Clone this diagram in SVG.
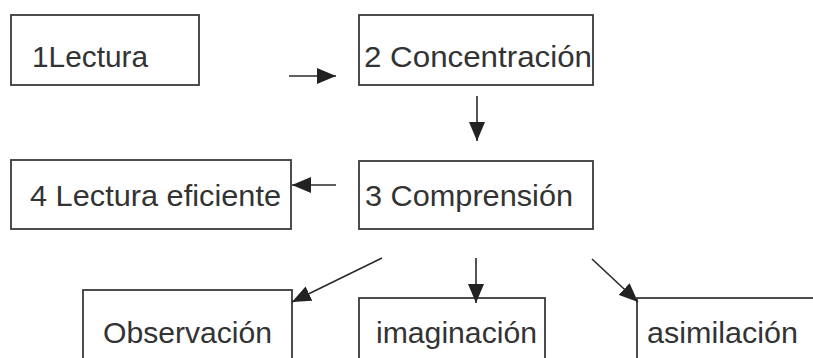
<svg xmlns="http://www.w3.org/2000/svg" width="813" height="358" viewBox="0 0 813 358">
<style>
.box{fill:#fff;stroke:#3a3a3a;stroke-width:1.8}
.lbl{font-family:"Liberation Sans",Arial,sans-serif;font-size:30px;fill:#333}
.con{stroke:#2a2a2a;stroke-width:1.6;fill:none}
</style>
<defs>
<marker id="ah" viewBox="0 0 19 16" refX="19" refY="8" markerWidth="19" markerHeight="16" markerUnits="userSpaceOnUse" orient="auto">
<path d="M0,0 L19,8 L0,16 Z" fill="#222"/>
</marker>
</defs>
<rect width="813" height="358" fill="#fff"/>
<g id="n1"><rect class="box" x="11" y="15" width="188" height="70"/><text class="lbl" x="32" y="67" textLength="116" lengthAdjust="spacingAndGlyphs">1Lectura</text></g>
<g id="n2"><rect class="box" x="359" y="15" width="234" height="70"/><text class="lbl" x="364" y="67" textLength="228" lengthAdjust="spacingAndGlyphs">2 Concentración</text></g>
<g id="n3"><rect class="box" x="359" y="161" width="234" height="68"/><text class="lbl" x="365" y="206" textLength="208" lengthAdjust="spacingAndGlyphs">3 Comprensión</text></g>
<g id="n4"><rect class="box" x="11" y="160" width="280" height="69"/><text class="lbl" x="30" y="206" textLength="251" lengthAdjust="spacingAndGlyphs">4 Lectura eficiente</text></g>
<g id="n5"><rect class="box" x="83" y="290" width="209" height="80"/><text class="lbl" x="103" y="343" textLength="169" lengthAdjust="spacingAndGlyphs">Observación</text></g>
<g id="n6"><rect class="box" x="359" y="298" width="186" height="80"/><text class="lbl" x="376" y="343" textLength="161" lengthAdjust="spacingAndGlyphs">imaginación</text></g>
<g id="n7"><rect class="box" x="637" y="298" width="190" height="80"/><text class="lbl" x="647" y="343" textLength="151" lengthAdjust="spacingAndGlyphs">asimilación</text></g>
<g id="connectors">
<line class="con" x1="289" y1="76" x2="336" y2="76" marker-end="url(#ah)"/>
<line class="con" x1="477" y1="96" x2="477" y2="141" marker-end="url(#ah)"/>
<line class="con" x1="336" y1="185" x2="292" y2="185" marker-end="url(#ah)"/>
<line class="con" x1="382" y1="258" x2="292" y2="302" marker-end="url(#ah)"/>
<line class="con" x1="476" y1="258" x2="476" y2="303" marker-end="url(#ah)"/>
<line class="con" x1="592" y1="259" x2="638" y2="302" marker-end="url(#ah)"/>
</g>
</svg>
